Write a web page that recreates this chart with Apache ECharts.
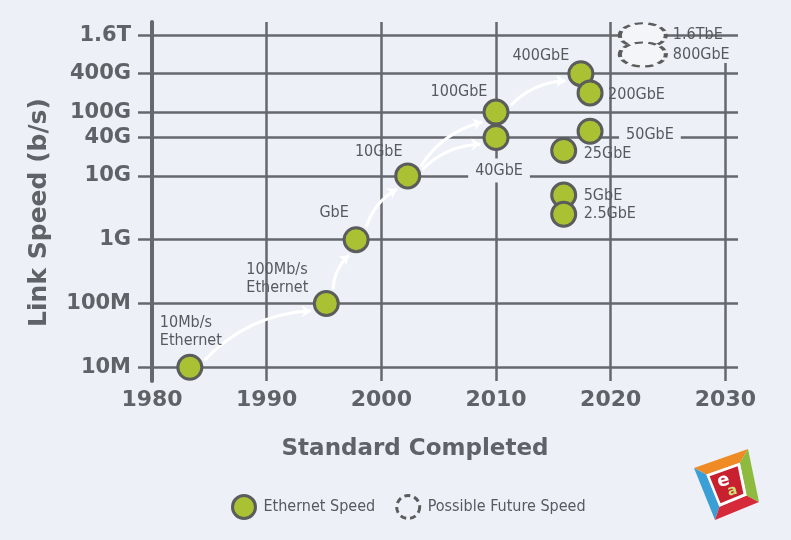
<!DOCTYPE html>
<html>
<head>
<meta charset="utf-8">
<script src="https://cdn.jsdelivr.net/npm/echarts@6/dist/echarts.min.js"></script>
<style>
html,body{margin:0;padding:0;background:#edf1f7;}
#chart{width:791px;height:540px;}
</style>
</head>
<body>
<div id="chart"></div>
<script>
// ---------- data ----------
const pointNames = ['10Mb/s\nEthernet','100Mb/s\nEthernet','GbE','10GbE','40GbE','100GbE','400GbE','200GbE','50GbE','25GbE','5GbE','2.5GbE'];
const pointYears = [1983.3,1995.2,1997.8,2002.3,2010,2010,2017.4,2018.2,2018.2,2015.9,2015.9,2015.9];
const pointSpeeds = [10e6,100e6,1e9,10e9,40e9,100e9,400e9,200e9,50e9,25e9,5e9,2.5e9];
const futureNames = ['1.6TbE','800GbE'];
const futureYears = [2022.8,2022.8];
const futureSpeeds = [1.6e12,800e9];
const tickSpeeds = [10e6,100e6,1e9,10e9,40e9,100e9,400e9,1.6e12];
const tickLabels = ['10M','100M','1G','10G','40G','100G','400G','1.6T'];
const yearTicks = [1980,1990,2000,2010,2020,2030];
const arrowPairs = [[0,1],[1,2],[2,3],[3,5],[3,4],[5,6]]; // from -> to (point indices)

// ---------- styles ----------
const BG = '#edf1f7', LINE = '#65686c', TXT = '#5f6266', GREEN = '#a9c132', RIM = '#5a5d5c';
const Y_MIN = 6.785, Y_MAX = 12.412, X_MIN = 1980, X_MAX = 2031.1;
const FUTURE_LINE_TOP = 11.77;
const NARROW = "'Liberation Sans Narrow','DejaVu Sans Condensed','Roboto Condensed',sans-serif";
const BOLD = "'DejaVu Sans',sans-serif";
// label placement per point: [align, dx, dy, background]
const labelPlace = [
  ['left',-30,-35,false],['left',-80,-25,false],['center',-22,-27,false],['center',-29,-24,false],
  ['center',3,33,true],['center',-37,-20,false],['center',-40,-18,false],['left',18,2,false],
  ['left',29,4,true],['left',20,3,false],['left',20,1,false],['left',20,0,false]
];

const log10 = Math.log10;
const tickVals = tickSpeeds.map(log10);

function mkLabel(p){
  const l = {show:true, formatter:'{b}', position:'inside', align:p[0], verticalAlign:'middle', offset:[p[1],p[2]],
    color:'#56595d', fontFamily:NARROW, fontSize:16, lineHeight:18};
  if (p[3]) { l.backgroundColor = BG; l.padding = [3,7]; }
  return l;
}

const scatterData = pointNames.map((n,i)=>({name:n, value:[pointYears[i], log10(pointSpeeds[i])], label:mkLabel(labelPlace[i])}));
const futureData = futureNames.map((n,i)=>({name:n, value:[futureYears[i], log10(futureSpeeds[i])],
  label:{show:true, formatter:'{b}', position:'inside', align:'left', verticalAlign:'middle', offset:[30,0], color:'#56595d', fontFamily:NARROW, fontSize:16}}));

const chart = echarts.init(document.getElementById('chart'), null, {renderer:'canvas'});

function ellipsePath(){ return 'path://M0,10 A23,12.5 0 1,1 46,10 A23,12.5 0 1,1 0,10 Z'; }

function logoGraphic(){
  const cx = 726.5, cy = 485;
  const outer = [[748-cx,449-cy],[694-cx,468-cy],[715-cx,520-cy],[759-cx,502-cy]];
  const sc = (pts,s)=>pts.map(p=>[p[0]*s,p[1]*s]);
  const inner = sc(outer,0.62);
  const cols = ['#f08a24','#3a9fd6','#d62a3a','#8dba3f']; // top, left, bottom, right
  const children = [];
  for (let k=0;k<4;k++){
    const a = outer[k], b = outer[(k+1)%4], c = inner[(k+1)%4], d = inner[k];
    children.push({type:'polygon', shape:{points:[a,b,c,d]}, style:{fill:cols[k]}});
  }
  children.push({type:'polygon', shape:{points:sc(outer,0.62)}, style:{fill:'#ffffff'}});
  children.push({type:'polygon', shape:{points:sc(outer,0.52)}, style:{fill:'#c8202f'}});
  children.push({type:'text', x:-3, y:-4, rotation:0.25, style:{text:'e', fill:'#fff', font:'bold 18px '+BOLD, align:'center', verticalAlign:'middle'}});
  children.push({type:'text', x:6, y:6, rotation:0.25, style:{text:'a', fill:'#cfe07a', font:'bold 14px '+BOLD, align:'center', verticalAlign:'middle'}});
  return {type:'group', x:cx, y:cy, silent:true, children};
}

const option = {
  animation:false,
  backgroundColor:BG,
  grid:{left:152, right:53, top:22, bottom:159},
  xAxis:{
    type:'value', min:X_MIN, max:X_MAX,
    name:'Standard Completed', nameLocation:'middle', nameGap:57,
    nameTextStyle:{color:TXT, fontFamily:BOLD, fontWeight:'bold', fontSize:23, padding:[0,60,0,0]},
    axisLine:{show:false},
    axisTick:{show:false, customValues:[1980,1990,2000,2010,2020]},
    axisLabel:{customValues:yearTicks, margin:8, color:TXT, fontFamily:BOLD, fontWeight:'bold', fontSize:22,
      formatter:(v)=>String(Math.round(v))},
    splitLine:{show:true, lineStyle:{color:LINE, width:2.5}}
  },
  yAxis:{
    type:'value', min:Y_MIN, max:Y_MAX,
    name:'Link Speed (b/s)', nameLocation:'middle', nameGap:100, nameRotate:90,
    nameTextStyle:{color:TXT, fontFamily:BOLD, fontWeight:'bold', fontSize:25, padding:[0,22,0,0]},
    axisLine:{show:true, onZero:false, lineStyle:{color:LINE, width:4}},
    axisTick:{show:true, customValues:tickVals, length:14, lineStyle:{color:LINE, width:2.5}},
    axisLabel:{customValues:tickVals, margin:21, color:TXT, fontFamily:BOLD, fontWeight:'bold', fontSize:21,
      formatter:(v)=>{ const i = tickVals.findIndex(t=>Math.abs(t-v)<1e-6); return i>=0?tickLabels[i]:''; }},
    splitLine:{show:true, lineStyle:{color:LINE, width:2.5}}
  },
  legend:{
    top:489, left:226, itemWidth:23, itemHeight:23, itemGap:20,
    textStyle:{color:'#56595d', fontFamily:NARROW, fontSize:16, padding:[0,0,0,3]},
    data:[
      {name:'Ethernet Speed', icon:'circle', itemStyle:{color:GREEN, borderColor:RIM, borderWidth:3}},
      {name:'Possible Future Speed', icon:'circle', itemStyle:{color:BG, borderColor:RIM, borderWidth:3, borderType:[6,4]}}
    ]
  },
  graphic:[logoGraphic()],
  series:[
    {
      type:'lines', name:'arrows', coordinateSystem:'cartesian2d', z:2, silent:true,
      symbol:['none','arrow'], symbolSize:9,
      lineStyle:{color:'#ffffff', width:3, curveness:0.2, opacity:1},
      data:[]
    },
    {
      type:'scatter', name:'Ethernet Speed', z:3, symbol:'circle', symbolSize:24,
      itemStyle:{color:GREEN, borderColor:RIM, borderWidth:3, opacity:1},
      data:scatterData,
      markLine:{silent:true, symbol:'none', label:{show:false}, lineStyle:{color:LINE, width:2.5, type:'solid'},
        data:[[{coord:[2030, Y_MIN]},{coord:[2030, FUTURE_LINE_TOP]}]]}
    },
    {
      type:'scatter', name:'Possible Future Speed', z:4, symbol:ellipsePath(), symbolSize:[46,24], symbolKeepAspect:false,
      itemStyle:{color:'#f3f5f9', borderColor:RIM, borderWidth:3, borderType:[6,4], opacity:1},
      data:futureData
    }
  ]
};
chart.setOption(option);

// arrows: trim the endpoints in pixel space so they start/end at the circles' rims
function trimmed(a,b,t0,t1){
  const p = chart.convertToPixel({gridIndex:0}, a);
  const q = chart.convertToPixel({gridIndex:0}, b);
  const dx=q[0]-p[0], dy=q[1]-p[1], L=Math.hypot(dx,dy), ux=dx/L, uy=dy/L;
  return [chart.convertFromPixel({gridIndex:0}, [p[0]+ux*t0, p[1]+uy*t0]),
          chart.convertFromPixel({gridIndex:0}, [q[0]-ux*t1, q[1]-uy*t1])];
}
const arrowData = arrowPairs.map(([s,t])=>({coords:trimmed(
  [pointYears[s], log10(pointSpeeds[s])], [pointYears[t], log10(pointSpeeds[t])], 16, 17)}));
chart.setOption({series:[{name:'arrows', data:arrowData}]});
</script>
</body>
</html>
